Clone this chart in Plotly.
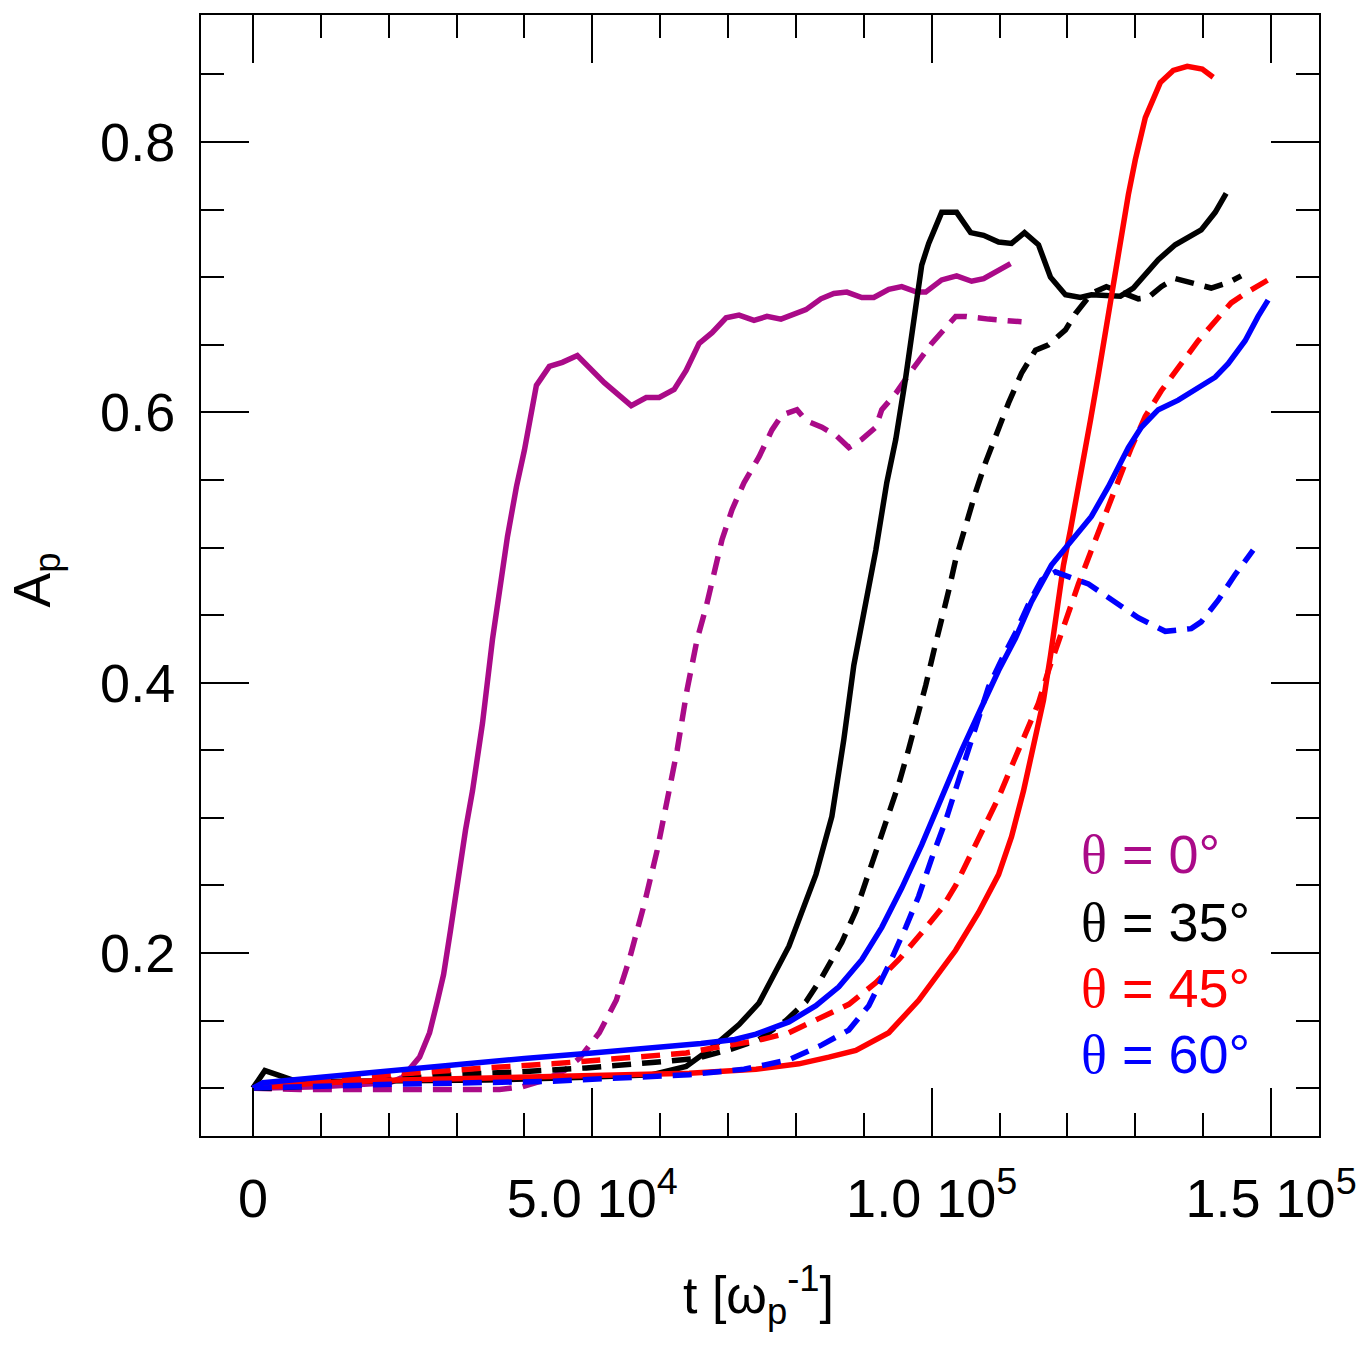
import plotly.graph_objects as go

# ---------------- data ----------------
t_p0_solid = [0, 9853, 20147, 22059, 24559, 26029, 27206, 28088, 29118, 30147, 31324, 32353, 33824, 35294,
              37500, 38824, 40000, 41765, 43676, 45588, 47794, 51765, 55735, 57941, 59853, 62059, 63824,
              65735, 67647, 69706, 71618, 73824, 75735, 77794, 79412, 81471, 83676, 85588, 87500, 89706,
              91471, 93676, 95588, 97794, 99118, 101471, 103676, 105882, 107647, 109412, 111618]
a_p0_solid = [0.100, 0.101, 0.104, 0.108, 0.123, 0.141, 0.165, 0.184, 0.217, 0.254, 0.291, 0.320, 0.370, 0.432,
              0.508, 0.545, 0.572, 0.620, 0.634, 0.637, 0.642, 0.622, 0.605, 0.611, 0.611, 0.617, 0.631,
              0.651, 0.659, 0.670, 0.672, 0.668, 0.671, 0.669, 0.672, 0.676, 0.684, 0.688, 0.689, 0.685,
              0.685, 0.691, 0.693, 0.689, 0.689, 0.698, 0.701, 0.697, 0.699, 0.704, 0.710]

t_p0_dash = [0, 6912, 14265, 21618, 28971, 36324, 39706, 42941, 45882, 48088, 51029, 53529, 55441, 57647,
             59559, 61029, 62500, 63971, 65441, 66765, 67941, 69118, 70588, 72353, 74559, 76471, 77941,
             80147, 81471, 83824, 85882, 87794, 89706, 91765, 92647, 94706, 97059, 100000, 103529, 105000,
             108382, 113235]
a_p0_dash = [0.100, 0.099, 0.099, 0.099, 0.099, 0.099, 0.101, 0.106, 0.113, 0.122, 0.141, 0.165, 0.195, 0.236,
             0.276, 0.313, 0.350, 0.395, 0.432, 0.456, 0.481, 0.506, 0.528, 0.548, 0.567, 0.587, 0.598,
             0.602, 0.594, 0.589, 0.583, 0.574, 0.580, 0.589, 0.602, 0.614, 0.631, 0.651, 0.671, 0.671,
             0.669, 0.667]

t_p35_solid = [0, 1765, 3529, 5882, 9853, 19706, 34412, 49118, 58824, 63824, 67647, 71618, 74559, 78971,
               82941, 85294, 87059, 88529, 90294, 91765, 93382, 94706, 96176, 97353, 98529, 99559, 101471,
               103676, 105735, 107647, 109853, 111765, 113676, 115735, 117500, 119706, 121912, 123529,
               127794, 129706, 133382, 135882, 137794, 139706, 141765, 143382]
a_p35_solid = [0.100, 0.113, 0.110, 0.106, 0.105, 0.105, 0.106, 0.108, 0.110, 0.116, 0.130, 0.147, 0.163, 0.205,
               0.258, 0.301, 0.358, 0.413, 0.461, 0.498, 0.548, 0.580, 0.626, 0.668, 0.709, 0.725, 0.748,
               0.748, 0.733, 0.731, 0.726, 0.725, 0.733, 0.724, 0.700, 0.687, 0.685, 0.687,
               0.686, 0.692, 0.713, 0.724, 0.729, 0.735, 0.748, 0.762]

t_p35_dash = [0, 2500, 9853, 19706, 29412, 39265, 49118, 58824, 65294, 70588, 74559, 78529, 81471, 83824,
              86765, 88824, 90294, 91912, 93676, 95147, 96618, 98088, 99118, 100294, 101471, 102500, 103529,
              105000, 106471, 107941, 109559, 111324, 113235, 115294, 117206, 119706, 121176, 122647,
              123529, 125735, 127794, 130441, 131912, 133824, 135882, 138529, 141176, 143676, 145588]
a_p35_dash = [0.100, 0.100, 0.102, 0.106, 0.110, 0.112, 0.115, 0.119, 0.122, 0.129, 0.136, 0.150, 0.164, 0.182,
              0.208, 0.231, 0.253, 0.276, 0.301, 0.325, 0.351, 0.378, 0.398, 0.423, 0.446, 0.468, 0.491,
              0.517, 0.541, 0.563, 0.585, 0.607, 0.629, 0.646, 0.650, 0.661, 0.673, 0.683,
              0.688, 0.693, 0.689, 0.684, 0.685, 0.693, 0.699, 0.696, 0.692, 0.696, 0.701]

t_p45_solid = [0, 9853, 21618, 36324, 51029, 64265, 74118, 80441, 84853, 88824, 93676, 98088, 103529, 106912,
               109853, 111765, 113529, 115000, 116471, 117500, 118382, 119412, 120441, 121324, 122353,
               123382, 124559, 125735, 126765, 127794, 128971, 130000, 131471, 133676, 135588, 137647,
               139853, 141471]
a_p45_solid = [0.100, 0.104, 0.106, 0.108, 0.110, 0.111, 0.114, 0.118, 0.123, 0.128, 0.141, 0.165, 0.202, 0.230,
               0.258, 0.286, 0.320, 0.354, 0.387, 0.420, 0.454, 0.487, 0.513, 0.539, 0.565,
               0.594, 0.628, 0.665, 0.694, 0.727, 0.761, 0.787, 0.818, 0.844, 0.853, 0.856,
               0.854, 0.848]

t_p45_dash = [0, 2500, 14706, 24559, 34412, 44118, 53971, 63824, 69118, 74118, 78971, 83824, 87794, 91765,
              95147, 98529, 101471, 103529, 105882, 107941, 109853, 111765, 113824, 115735, 117206, 118676,
              120147, 121618, 123529, 125588, 127500, 129412, 131471, 133824, 136765, 139265, 142206,
              144118, 146176, 148382, 149559]
a_p45_dash = [0.100, 0.104, 0.108, 0.112, 0.115, 0.118, 0.122, 0.126, 0.131, 0.135, 0.141, 0.152, 0.162, 0.178,
              0.195, 0.215, 0.233, 0.250, 0.275, 0.295, 0.315, 0.338, 0.362, 0.385, 0.409, 0.431,
              0.452, 0.473, 0.498, 0.525, 0.550, 0.574, 0.597, 0.616, 0.636, 0.653, 0.670,
              0.681, 0.688, 0.694, 0.698]

t_p60_solid = [0, 1500, 10000, 20000, 30000, 40000, 50000, 60000, 66000, 71000, 74118, 78971, 82941, 86324,
               89706, 92647, 95588, 98529, 101471, 104412, 107353, 109853, 112353, 114706, 117647, 120588,
               123529, 126029, 128971, 130882, 133382, 136324, 139265, 141765, 143676, 146176, 148088, 149559]
a_p60_solid = [0.100, 0.104, 0.108, 0.113, 0.118, 0.122, 0.126, 0.130, 0.133, 0.136, 0.140, 0.149, 0.161,
               0.175, 0.195, 0.219, 0.248, 0.280, 0.315, 0.350, 0.382, 0.409, 0.433, 0.460, 0.487, 0.505,
               0.523, 0.545, 0.574, 0.589, 0.602, 0.609, 0.618, 0.626, 0.636, 0.653, 0.671, 0.683]

t_p60_dash = [0, 21618, 43676, 58382, 64265, 72353, 78971, 83824, 87794, 90735, 93676, 96176, 98088, 100000,
              102059, 103529, 105441, 106912, 108382, 110294, 112353, 114265, 116176, 118235, 120588,
              123088, 126029, 130441, 134412, 138235, 139706, 142206, 144706, 147353]
a_p60_dash = [0.100, 0.103, 0.105, 0.108, 0.110, 0.114, 0.121, 0.132, 0.143, 0.161, 0.191, 0.219, 0.242, 0.270,
              0.298, 0.321, 0.350, 0.374, 0.397, 0.417, 0.437, 0.458, 0.476, 0.482, 0.478,
              0.473, 0.463, 0.448, 0.438, 0.440, 0.445, 0.461, 0.480, 0.498]

x_tickvals = [0, 50000, 100000, 150000]
x_ticktext = ["0", "5.0 10<sup>4</sup>", "1.0 10<sup>5</sup>", "1.5 10<sup>5</sup>"]
y_tickvals = [0.2, 0.4, 0.6, 0.8]
y_ticktext = ["0.2", "0.4", "0.6", "0.8"]

legend_labels = ["0°", "35°", "45°", "60°"]

# ---------------- styling ----------------
PURPLE = "#AA0A88"
BLACK = "#000000"
RED = "#FF0000"
BLUE = "#0000FF"
colors = [PURPLE, BLACK, RED, BLUE]
DASH = "19px,11px"
LW = 5.5
FONT = "Liberation Sans, Arial, Helvetica, sans-serif"
SERIF = "Liberation Serif"
FS = 54

series = [
    (t_p0_solid, a_p0_solid, PURPLE, "solid"),
    (t_p0_dash, a_p0_dash, PURPLE, DASH),
    (t_p35_solid, a_p35_solid, BLACK, "solid"),
    (t_p35_dash, a_p35_dash, BLACK, DASH),
    (t_p45_solid, a_p45_solid, RED, "solid"),
    (t_p45_dash, a_p45_dash, RED, DASH),
    (t_p60_solid, a_p60_solid, BLUE, "solid"),
    (t_p60_dash, a_p60_dash, BLUE, DASH),
]

fig = go.Figure()
for t, a, c, d in series:
    fig.add_trace(go.Scatter(x=t, y=a, mode="lines",
                             line=dict(color=c, width=LW, dash=d),
                             showlegend=False, hoverinfo="skip"))

fig.update_layout(
    width=1369, height=1346,
    margin=dict(l=201, r=48, t=15, b=210),
    paper_bgcolor="white", plot_bgcolor="white",
    font=dict(family=FONT, size=FS, color="black"),
)

fig.update_xaxes(
    range=[-7647, 157059], showgrid=False, zeroline=False,
    showline=True, linecolor="black", linewidth=2, mirror="allticks",
    tickmode="array", tickvals=x_tickvals, ticktext=x_ticktext,
    ticks="inside", ticklen=48, tickwidth=2, tickcolor="black",
    ticklabelstandoff=14,
    tickfont=dict(family=FONT, size=FS, color="black"),
    minor=dict(dtick=10000, tick0=0, ticks="inside", ticklen=23, tickwidth=2,
               tickcolor="black", showgrid=False),
)
fig.update_yaxes(
    range=[0.0646, 0.894], showgrid=False, zeroline=False,
    showline=True, linecolor="black", linewidth=2, mirror="allticks",
    tickmode="array", tickvals=y_tickvals, ticktext=y_ticktext,
    ticks="inside", ticklen=48, tickwidth=2, tickcolor="black",
    ticklabelstandoff=13,
    tickfont=dict(family=FONT, size=FS, color="black"),
    minor=dict(dtick=0.05, tick0=0, ticks="inside", ticklen=23, tickwidth=2,
               tickcolor="black", showgrid=False),
)

# axis titles
fig.add_annotation(text="t [ω<sub>p</sub><sup>-1</sup>]", xref="paper", yref="paper",
                   x=0.499, y=-0.142, xanchor="center", yanchor="middle", showarrow=False,
                   font=dict(family=FONT, size=52, color="black"))
fig.add_annotation(text="A<sub>p</sub>", xref="paper", yref="paper",
                   x=-0.148, y=0.496, xanchor="center", yanchor="middle", showarrow=False,
                   textangle=-90, font=dict(family=FONT, size=52, color="black"))

# legend labels
legend_y = [0.2507, 0.1909, 0.132, 0.0723]
for lab, col, yy in zip(legend_labels, colors, legend_y):
    fig.add_annotation(
        text='<span style="font-family:' + SERIF + '">θ</span> = ' + lab,
        xref="paper", yref="paper", x=0.785, y=yy, xanchor="left", yanchor="middle",
        showarrow=False, font=dict(family=FONT, size=54, color=col))

fig.write_html("out.html")
